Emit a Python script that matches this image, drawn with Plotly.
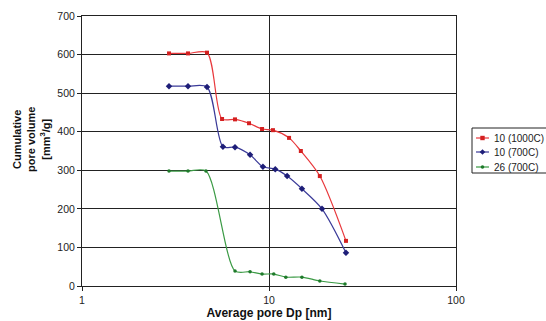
import plotly.graph_objects as go

# Data
red_x = [2.92, 3.69, 4.66, 5.61, 6.58, 7.82, 9.18, 10.5, 12.8, 14.8, 18.7, 25.8]
red_y = [603, 603, 605, 433, 432, 422, 407, 404, 384, 350, 285, 117]

blue_x = [2.92, 3.69, 4.66, 5.67, 6.58, 7.92, 9.28, 10.8, 12.5, 15.0, 19.2, 25.8]
blue_y = [518, 518, 516, 361, 360, 340, 309, 303, 285, 252, 200, 86]

green_x = [2.92, 3.69, 4.6, 6.58, 7.92, 9.18, 10.6, 12.3, 15.0, 18.7, 25.5]
green_y = [298, 298, 298, 39, 37, 31, 31, 23, 23, 13, 5]

series_names = ["10 (1000C)", "10 (700C)", "26 (700C)"]

FONT = "Liberation Sans, Arial, sans-serif"
W, H = 546, 321
ML, MR, MT, MB = 82, 90, 16, 35
PW, PH = W - ML - MR, H - MT - MB

def px(x):
    return (x - ML) / PW

def py(y):
    return (H - MB - y) / PH

styles = [
    dict(line="#e8383c", marker="#d42020", symbol="square", size=4),
    dict(line="#3a3a98", marker="#1e1e78", symbol="diamond", size=5),
    dict(line="#3a9a44", marker="#1e7a2a", symbol="circle", size=3.5),
]

fig = go.Figure()
for (xs, ys), name, st in zip([(red_x, red_y), (blue_x, blue_y), (green_x, green_y)], series_names, styles):
    fig.add_trace(go.Scatter(
        x=xs, y=ys, name=name, mode="lines+markers", showlegend=False,
        line=dict(color=st["line"], width=1.2, shape="spline", smoothing=0.8),
        marker=dict(symbol=st["symbol"], size=st["size"], color=st["marker"]),
    ))

# Custom legend (box, keys, labels) to match the reference's compact legend
shapes = [dict(type="rect", xref="paper", yref="paper",
               x0=px(472), x1=px(550), y0=py(128), y1=py(173),
               line=dict(color="#222", width=1), fillcolor="white", layer="above")]
annotations = []
row_y = [138, 152, 167]
for name, st, yy in zip(series_names, styles, row_y):
    shapes.append(dict(type="line", xref="paper", yref="paper",
                       x0=px(476), x1=px(489), y0=py(yy), y1=py(yy),
                       line=dict(color=st["line"], width=1.2), layer="above"))
    cx, r = 482.5, 2.2
    if st["symbol"] == "square":
        shapes.append(dict(type="rect", xref="paper", yref="paper",
                           x0=px(cx - r), x1=px(cx + r), y0=py(yy - r), y1=py(yy + r),
                           line=dict(width=0), fillcolor=st["marker"], layer="above"))
    elif st["symbol"] == "diamond":
        d = 2.8
        path = "M {a},{b} L {c},{e} L {a},{f} L {g},{e} Z".format(
            a=px(cx), b=py(yy - d), c=px(cx + d), e=py(yy), f=py(yy + d), g=px(cx - d))
        shapes.append(dict(type="path", xref="paper", yref="paper", path=path,
                           line=dict(width=0), fillcolor=st["marker"], layer="above"))
    else:
        rr = 1.8
        shapes.append(dict(type="circle", xref="paper", yref="paper",
                           x0=px(cx - rr), x1=px(cx + rr), y0=py(yy - rr), y1=py(yy + rr),
                           line=dict(width=0), fillcolor=st["marker"], layer="above"))
    annotations.append(dict(xref="paper", yref="paper", x=px(492), y=py(yy),
                            xanchor="left", yanchor="middle", showarrow=False,
                            text=name, font=dict(size=10, family=FONT, color="#222")))

# Y axis title as a rotated annotation (centred where the reference has it)
annotations.append(dict(xref="paper", yref="paper", x=px(31), y=py(140),
                        xanchor="center", yanchor="middle", showarrow=False, textangle=-90,
                        text="<b>Cumulative<br>pore volume<br>[mm<sup>3</sup>/g]</b>",
                        font=dict(size=11, family=FONT, color="#111")))

fig.update_layout(
    width=W, height=H,
    margin=dict(l=ML, r=MR, t=MT, b=MB, autoexpand=False),
    paper_bgcolor="white", plot_bgcolor="white",
    font=dict(family=FONT, size=10.5, color="#222"),
    showlegend=False,
    shapes=shapes,
    annotations=annotations,
    xaxis=dict(
        type="log", range=[0, 2], dtick=1, automargin=False,
        showgrid=True, gridcolor="#222", gridwidth=1,
        showline=True, linecolor="#222", linewidth=1, mirror=True,
        ticks="outside", ticklen=4, tickcolor="#222",
        zeroline=False,
        title=dict(text="<b>Average pore Dp [nm]</b>", font=dict(size=12, family=FONT, color="#111"), standoff=1),
    ),
    yaxis=dict(
        range=[0, 700], dtick=100, automargin=False,
        showgrid=True, gridcolor="#222", gridwidth=1,
        showline=True, linecolor="#222", linewidth=1, mirror=True,
        ticks="outside", ticklen=4, tickcolor="#222",
        zeroline=False,
    ),
)

fig.write_html("out.html")
